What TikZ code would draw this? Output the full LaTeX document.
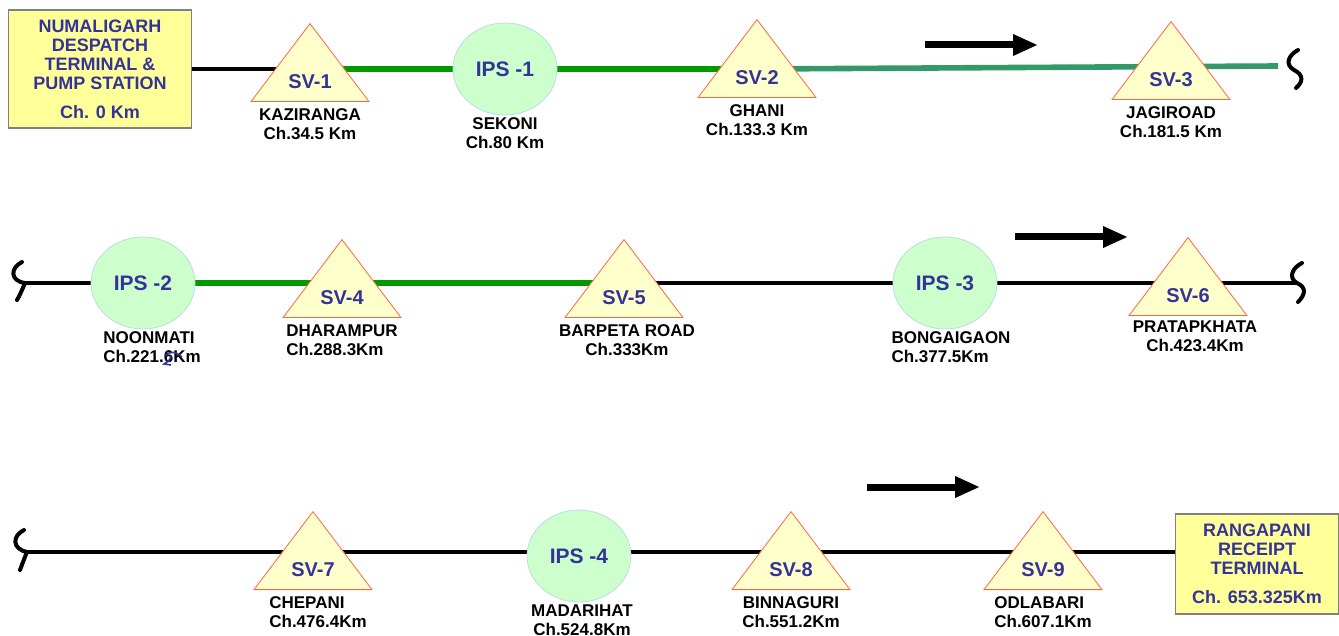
\documentclass[tikz,border=0pt]{standalone}
\usepackage{fontspec}
\setmainfont{Liberation Sans}
\usepackage{tikz}
\usetikzlibrary{shapes.geometric, arrows.meta, positioning, backgrounds}
\definecolor{boxyellow}{HTML}{FFFF99}
\definecolor{boxgray}{HTML}{808080}
\definecolor{navy}{HTML}{333399}
\definecolor{svyellow}{HTML}{FFFFCC}
\definecolor{svred}{HTML}{FF6644}
\definecolor{ipsgreen}{HTML}{CCFFCC}
\definecolor{ipsedge}{HTML}{BBDDDD}
\definecolor{pipegreen}{HTML}{009900}
\definecolor{pipeteal}{HTML}{339966}
\tikzstyle{term} = [rectangle, draw=boxgray, fill=boxyellow, thick, text=navy, font=\bfseries\fontsize{9}{9.5}\selectfont, align=center, minimum width=91.5pt, inner sep=0pt]
\tikzstyle{sv} = [isosceles triangle, shape border rotate=90, isosceles triangle stretches, minimum width=59pt, minimum height=39pt, inner sep=0pt, draw=svred, fill=svyellow, text=navy, font=\bfseries\fontsize{10}{12}\selectfont, anchor=lower side]
\tikzstyle{ips} = [ellipse, draw=ipsedge, fill=ipsgreen, text=navy, font=\bfseries\fontsize{10.5}{12}\selectfont, minimum width=52pt, minimum height=46pt]
\tikzstyle{lab} = [font=\bfseries\fontsize{8.5}{9.5}\selectfont, align=center, inner sep=1pt]
\tikzstyle{pipe} = [line width=2.4pt, black]
\tikzstyle{gpipe} = [line width=2.8pt, pipegreen]
\tikzstyle{tpipe} = [line width=2.8pt, pipeteal]
\tikzstyle{flow} = [line width=3.5pt, -{Triangle[length=12.5pt,width=10pt]}]
\tikzstyle{brk} = [line width=2pt, line cap=round]

\begin{document}
\begin{tikzpicture}[x=0.5pt, y=-0.5pt]
\useasboundingbox (0,0) rectangle (1339,636);

\node [term, minimum height=59pt] (nbox) at (100,69) {NUMALIGARH\\DESPATCH\\TERMINAL \&\\PUMP STATION\\[5pt]Ch. 0 Km};
\node [sv] (sv1) at (310,102) {SV-1};
\node [ips] (ips1) at (505,69) {IPS -1};
\node [sv] (sv2) at (757,98) {SV-2};
\node [sv] (sv3) at (1171,100) {SV-3};
\coordinate (e1) at (1278,66);

\node [lab, below=2pt of sv1] (kaz) {KAZIRANGA\\Ch.34.5 Km};
\node [lab, below=0pt of ips1] (sek) {SEKONI\\Ch.80 Km};
\node [lab, below=2pt of sv2] (gha) {GHANI\\Ch.133.3 Km};
\node [lab, below=2pt of sv3] (jag) {JAGIROAD\\Ch.181.5 Km};

\coordinate (s2) at (25,283);
\node [ips] (ips2) at (143,283) {IPS -2};
\node [sv] (sv4) at (342,318) {SV-4};
\node [sv] (sv5) at (624,318) {SV-5};
\node [ips] (ips3) at (945,283) {IPS -3};
\node [sv] (sv6) at (1188,316) {SV-6};
\coordinate (e2) at (1297,283);

\node [lab, align=left, below=0pt of ips2, xshift=4.5pt] (noo) {NOONMATI\\Ch.221.6Km};
\node [lab, align=left, below=2pt of sv4] (dha) {DHARAMPUR\\Ch.288.3Km};
\node [lab, below=2pt of sv5, xshift=1.5pt] (bar) {BARPETA ROAD\\Ch.333Km};
\node [lab, align=left, below=0pt of ips3, xshift=3pt] (bon) {BONGAIGAON\\Ch.377.5Km};
\node [lab, below=1pt of sv6, xshift=3.5pt] (pra) {PRATAPKHATA\\Ch.423.4Km};

\coordinate (s3) at (25,552);
\node [sv] (sv7) at (313,590) {SV-7};
\node [ips] (ips4) at (579,556) {IPS -4};
\node [sv] (sv8) at (791,590) {SV-8};
\node [sv] (sv9) at (1043,590) {SV-9};
\node [term, minimum width=81.5pt, minimum height=50pt] (rbox) at (1257,564) {RANGAPANI\\RECEIPT\\TERMINAL\\[5pt]Ch. 653.325Km};

\node [lab, align=left, below=2pt of sv7, xshift=2.5pt] (che) {CHEPANI\\Ch.476.4Km};
\node [lab, below=0pt of ips4, xshift=1.5pt] (mad) {MADARIHAT\\Ch.524.8Km};
\node [lab, below=2pt of sv8] (bin) {BINNAGURI\\Ch.551.2Km};
\node [lab, align=left, below=2pt of sv9] (odl) {ODLABARI\\Ch.607.1Km};

\coordinate (f1a) at (925,45);
\coordinate (f1b) at (1038,45);
\coordinate (f2a) at (1015,237);
\coordinate (f2b) at (1128,237);
\coordinate (f3a) at (867,487);
\coordinate (f3b) at (980,487);

\begin{scope}[on background layer]
\draw [pipe] (nbox) to (nbox -| sv1);
\draw [gpipe] (nbox -| sv1) to (ips1);
\draw [gpipe] (ips1) to (ips1 -| sv2);
\draw [tpipe] (ips1 -| sv2) to (e1);

\draw [pipe] (s2) to (ips2);
\draw [gpipe] (ips2) to (ips2 -| sv5);
\draw [pipe] (ips2 -| sv5) to (ips3);
\draw [pipe] (ips3) to (e2);

\draw [pipe] (s3) to (s3 -| rbox.west);
\end{scope}

\draw [flow] (f1a) to (f1b);
\draw [flow] (f2a) to (f2b);
\draw [flow] (f3a) to (f3b);

\draw [brk] (1298,50) .. controls (1289,55) and (1284,64) .. (1294,70) .. controls (1304,75) and (1303,82) .. (1296,88);
\draw [brk] (22,262) .. controls (10,268) and (10,281) .. (25,283) .. controls (22,290) and (20,295) .. (17,300);
\draw [brk] (1302,263) .. controls (1292,268) and (1288,278) .. (1297,283) .. controls (1308,288) and (1304,296) .. (1298,302);
\draw [brk] (24,530) .. controls (12,536) and (12,549) .. (27,552) .. controls (24,559) and (22,565) .. (20,570);

\draw [navy, line width=0.8pt] (165,356) .. controls (169,351) and (175,351) .. (182,357);
\draw [navy, line width=0.8pt] (171,356) .. controls (170,360) .. (164,364) -- (171,365);
\end{tikzpicture}
\end{document}
